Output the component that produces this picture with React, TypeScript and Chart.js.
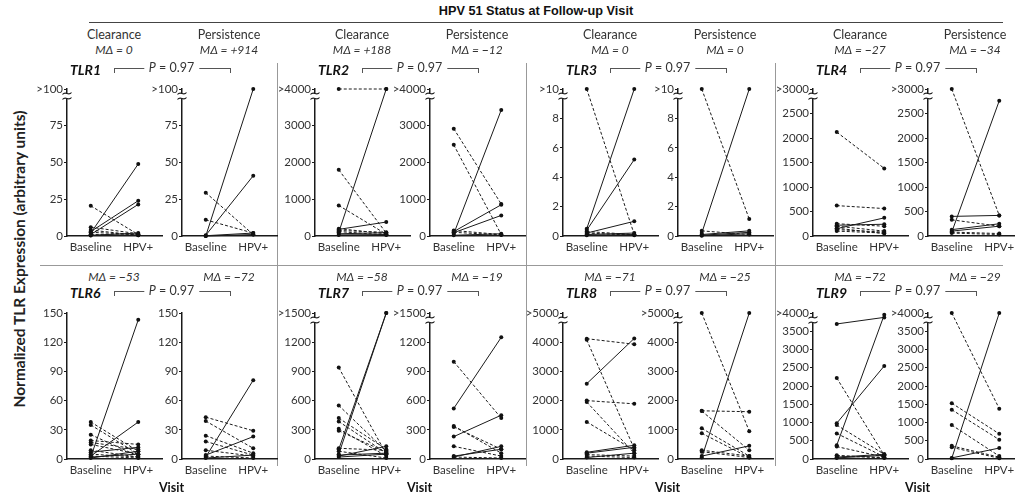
import React, { useEffect, useRef } from "react";
import { Chart, registerables } from "chart.js";
Chart.register(...registerables);

type Pair = [number, number];

// ---------- DATA ----------
const title = "HPV 51 Status at Follow-up Visit";
const yTitle = "Normalized TLR Expression (arbitrary units)";
const xTitle = "Visit";
const visitLabels = ["Baseline", "HPV+"];
const statusGroups = ["Clearance", "Persistence"];
const genes = ["TLR1", "TLR2", "TLR3", "TLR4", "TLR6", "TLR7", "TLR8", "TLR9"];
const pValues = ["0.97", "0.97", "0.97", "0.97", "0.97", "0.97", "0.97", "0.97"];
const medianDeltaClearance = ["0", "+188", "0", "\u221227", "\u221253", "\u221258", "\u221271", "\u221272"];
const medianDeltaPersistence = ["+914", "\u221212", "0", "\u221234", "\u221272", "\u221219", "\u221225", "\u221229"];

const tlr1Ticks = [0, 25, 50, 75, 100];
const tlr2Ticks = [0, 1000, 2000, 3000, 4000];
const tlr3Ticks = [0, 2, 4, 6, 8, 10];
const tlr4Ticks = [0, 500, 1000, 1500, 2000, 2500, 3000];
const tlr6Ticks = [0, 30, 60, 90, 120, 150];
const tlr7Ticks = [0, 300, 600, 900, 1200, 1500];
const tlr8Ticks = [0, 1000, 2000, 3000, 4000, 5000];
const tlr9Ticks = [0, 500, 1000, 1500, 2000, 2500, 3000, 3500, 4000];
const topLabels = [">100", ">4000", ">10", ">3000", "150", ">1500", ">5000", ">4000"];

// [baseline, HPV+] per patient
const tlr1Clearance: Pair[] = [[2, 49], [3, 24], [1, 21.5], [20.5, 1], [6, 1.5], [4, 0.5], [2.5, 1], [1, 0.5], [0.5, 2], [0.3, 0.8]];
const tlr1Persistence: Pair[] = [[0, 100], [0.5, 41], [29.5, 1], [11, 2], [0, 1], [0.2, 2]];
const tlr2Clearance: Pair[] = [[4000, 4000], [100, 4000], [1800, 80], [830, 50], [180, 380], [200, 60], [150, 100], [120, 30], [60, 90], [30, 40]];
const tlr2Persistence: Pair[] = [[2920, 870], [2480, 40], [60, 3430], [120, 850], [90, 560], [150, 40], [100, 30], [20, 60]];
const tlr3Clearance: Pair[] = [[10, 0.1], [0.5, 10], [0.4, 5.2], [0.2, 1.0], [0.3, 0.1], [0.1, 0.2], [0.05, 0.1], [0.2, 0.05]];
const tlr3Persistence: Pair[] = [[10, 1.15], [0.2, 10], [0.35, 0.1], [0.1, 0.35], [0.05, 0.25], [0.02, 0.15]];
const tlr4Clearance: Pair[] = [[2120, 1380], [620, 560], [150, 370], [250, 200], [220, 240], [200, 100], [160, 50], [130, 80], [100, 60]];
const tlr4Persistence: Pair[] = [[3000, 420], [80, 2760], [400, 420], [330, 200], [130, 250], [100, 200], [80, 50], [60, 30]];
const tlr6Clearance: Pair[] = [[2, 143], [3, 38], [38, 8], [35, 5], [25, 3], [19, 15], [17, 10], [15, 5], [9, 2], [7, 12], [5, 2], [1, 8], [2, 5], [3, 1]];
const tlr6Persistence: Pair[] = [[2, 81], [43, 29], [39, 11], [24, 6], [18, 4], [4, 23], [9, 3], [3, 1], [1, 4]];
const tlr7Clearance: Pair[] = [[100, 1500], [50, 1500], [940, 50], [550, 80], [420, 100], [385, 60], [310, 30], [290, 70], [110, 90], [30, 130], [20, 50], [40, 60], [80, 10]];
const tlr7Persistence: Pair[] = [[520, 1250], [1000, 420], [230, 450], [340, 60], [330, 100], [130, 30], [20, 130], [30, 100], [20, 10]];
const tlr8Clearance: Pair[] = [[2580, 4130], [4120, 3930], [4080, 350], [2000, 1890], [1950, 200], [1270, 300], [230, 470], [200, 400], [150, 100], [100, 50], [50, 200]];
const tlr8Persistence: Pair[] = [[50, 5000], [5000, 950], [1650, 1620], [1640, 300], [1050, 100], [880, 50], [100, 450], [300, 100], [250, 50]];
const tlr9Clearance: Pair[] = [[3700, 3880], [380, 3950], [980, 2550], [2220, 100], [930, 130], [700, 60], [340, 50], [100, 30], [50, 130], [80, 40], [30, 100]];
const tlr9Persistence: Pair[] = [[20, 4000], [4000, 1380], [1530, 690], [1350, 530], [930, 80], [360, 50], [320, 20], [30, 300]];

const geneTicks = [tlr1Ticks, tlr2Ticks, tlr3Ticks, tlr4Ticks, tlr6Ticks, tlr7Ticks, tlr8Ticks, tlr9Ticks];
const geneData: Pair[][][] = [
  [tlr1Clearance, tlr1Persistence],
  [tlr2Clearance, tlr2Persistence],
  [tlr3Clearance, tlr3Persistence],
  [tlr4Clearance, tlr4Persistence],
  [tlr6Clearance, tlr6Persistence],
  [tlr7Clearance, tlr7Persistence],
  [tlr8Clearance, tlr8Persistence],
  [tlr9Clearance, tlr9Persistence],
];

// ---------- LAYOUT ----------
const FONT = "Lato, 'Open Sans', sans-serif";
const INK = "#1a1a1a";
const TEXT = "#333";
const groupAxisX = [67, 315, 563, 813];
const PAIR_OFFSET = 115;
const rowsGeo = [
  { top: 89, zero: 236, md: 50, tlr: 70 },
  { top: 313, zero: 459, md: 277, tlr: 293 },
];
const PAD_LEFT = 40;
const PAD_TOP = 12;
const X_AXIS_H = 24;
const AXIS_LEN = 95;
const PAD_RIGHT = 4;

type PanelSpec = {
  key: string;
  gi: number;
  k: number;
  ax: number;
  row: number;
};

const panels: PanelSpec[] = [];
genes.forEach((g, gi) => {
  [0, 1].forEach((k) => {
    const row = gi < 4 ? 0 : 1;
    const col = gi % 4;
    panels.push({ key: g + k, gi, k, ax: groupAxisX[col] + k * PAIR_OFFSET, row });
  });
});

const T: React.FC<{ x: number; y: number; anchor?: "start" | "middle" | "end"; style?: React.CSSProperties; children?: React.ReactNode }> = ({ x, y, anchor = "middle", style, children }) => (
  <div
    style={{
      position: "absolute",
      left: x,
      top: y,
      transform: `translate(${anchor === "middle" ? "-50%" : anchor === "end" ? "-100%" : "0"}, -50%)`,
      whiteSpace: "nowrap",
      lineHeight: 1,
      fontFamily: FONT,
      color: TEXT,
      ...style,
    }}
  >
    {children}
  </div>
);

export default function App() {
  const refs = useRef<(HTMLCanvasElement | null)[]>([]);

  useEffect(() => {
    const charts: Chart[] = [];
    panels.forEach((p, i) => {
      const canvas = refs.current[i];
      if (!canvas) return;
      const ticks = geneTicks[p.gi];
      const top = ticks[ticks.length - 1];
      const topLabel = topLabels[p.gi];
      const hasBreak = topLabel.startsWith(">");
      const pairs = geneData[p.gi][p.k];
      const datasets = pairs.map(([b, h]) => ({
        data: [
          { x: 1, y: Math.min(b, top) },
          { x: 3, y: Math.min(h, top) },
        ],
        borderColor: INK,
        backgroundColor: INK,
        pointBackgroundColor: "#111",
        pointBorderColor: "#111",
        borderWidth: 1,
        borderDash: h > b ? [] : [3, 2],
        pointRadius: 2,
        pointBorderWidth: 0,
        tension: 0,
        clip: false as any,
      }));
      const breakPlugin = {
        id: "axisBreak" + i,
        afterDraw(chart: any) {
          if (!hasBreak) return;
          const { ctx, chartArea } = chart;
          const x = chartArea.left;
          const y1 = chartArea.top + 4.5;
          const y2 = chartArea.top + 9.5;
          ctx.save();
          ctx.fillStyle = "#fff";
          ctx.fillRect(x - 2, y1, 4, y2 - y1);
          ctx.strokeStyle = INK;
          ctx.lineWidth = 1.1;
          for (const y of [y1, y2]) {
            ctx.beginPath();
            ctx.moveTo(x - 4.5, y + 1);
            ctx.bezierCurveTo(x - 1.5, y - 3, x + 1.5, y + 3, x + 4.5, y - 1);
            ctx.stroke();
          }
          ctx.restore();
        },
      };
      const chart = new Chart(canvas, {
        type: "line",
        data: { datasets: datasets as any },
        plugins: [breakPlugin],
        options: {
          animation: false,
          responsive: false,
          maintainAspectRatio: false,
          layout: { padding: { left: 0, right: PAD_RIGHT, top: PAD_TOP, bottom: 0 } },
          plugins: { legend: { display: false }, tooltip: { enabled: false } },
          scales: {
            x: {
              type: "linear",
              min: 0,
              max: 4,
              afterBuildTicks: (s: any) => {
                s.ticks = [{ value: 1 }, { value: 3 }];
              },
              afterFit: (s: any) => {
                s.height = X_AXIS_H;
              },
              ticks: {
                callback: (v: any) => (v === 1 ? visitLabels[0] : v === 3 ? visitLabels[1] : ""),
                font: { family: FONT, size: 11.5 },
                color: TEXT,
                padding: 4,
                maxRotation: 0,
                autoSkip: false,
              },
              grid: { display: false, drawTicks: false },
              border: { display: true, color: INK, width: 1.5 },
            },
            y: {
              type: "linear",
              min: 0,
              max: top,
              afterBuildTicks: (s: any) => {
                s.ticks = ticks.map((v) => ({ value: v }));
              },
              afterFit: (s: any) => {
                s.width = PAD_LEFT;
              },
              ticks: {
                callback: (v: any) => (v === top ? topLabel : String(v)),
                font: { family: FONT, size: 11.5 },
                color: TEXT,
                padding: 1,
                autoSkip: false,
              },
              grid: { drawOnChartArea: false, drawTicks: true, tickLength: 3, color: INK, lineWidth: 1 },
              border: { display: true, color: INK, width: 1.5 },
            },
          },
        } as any,
      });
      charts.push(chart);
    });
    return () => charts.forEach((c) => c.destroy());
  }, []);

  const elements: React.ReactNode[] = [];

  panels.forEach((p, i) => {
    const geo = rowsGeo[p.row];
    const w = PAD_LEFT + AXIS_LEN + PAD_RIGHT;
    const h = geo.zero - geo.top + PAD_TOP + X_AXIS_H;
    elements.push(
      <canvas
        key={"c" + p.key}
        ref={(el) => {
          refs.current[i] = el;
        }}
        width={w}
        height={h}
        style={{ position: "absolute", left: p.ax - PAD_LEFT, top: geo.top - PAD_TOP, width: w, height: h }}
      />
    );
  });

  genes.forEach((g, gi) => {
    const row = gi < 4 ? 0 : 1;
    const col = gi % 4;
    const geo = rowsGeo[row];
    const ax0 = groupAxisX[col];
    const ax1 = ax0 + PAIR_OFFSET;
    const c0 = ax0 + 47;
    const c1 = ax1 + 47;
    if (row === 0) {
      elements.push(
        <T key={"h0" + g} x={c0} y={35} style={{ fontSize: 12.5 }}>{statusGroups[0]}</T>,
        <T key={"h1" + g} x={c1} y={35} style={{ fontSize: 12.5 }}>{statusGroups[1]}</T>
      );
    }
    elements.push(
      <T key={"m0" + g} x={c0} y={geo.md} style={{ fontSize: 12, fontStyle: "italic" }}>
        M{"\u0394"} = {medianDeltaClearance[gi]}
      </T>,
      <T key={"m1" + g} x={c1} y={geo.md} style={{ fontSize: 12, fontStyle: "italic" }}>
        M{"\u0394"} = {medianDeltaPersistence[gi]}
      </T>,
      <T key={"g" + g} x={ax0 + 3} y={geo.tlr} anchor="start" style={{ fontSize: 14, fontWeight: "bold", fontStyle: "italic", color: "#111" }}>
        {g}
      </T>,
      <div
        key={"br" + g}
        style={{
          position: "absolute",
          left: c0,
          top: geo.tlr - 2,
          width: c1 - c0,
          height: 4,
          borderTop: "1px solid #555",
          borderLeft: "1px solid #555",
          borderRight: "1px solid #555",
        }}
      />,
      <T key={"p" + g} x={(c0 + c1) / 2} y={geo.tlr - 2} style={{ fontSize: 12.5, background: "#fff", padding: "0 5px" }}>
        <i>P</i> = {pValues[gi]}
      </T>
    );
    if (row === 1) {
      elements.push(
        <T key={"v" + g} x={(ax0 + ax1) / 2 + 47} y={488} style={{ fontSize: 12.5, fontWeight: "bold", color: "#111" }}>
          {xTitle}
        </T>
      );
    }
  });

  return (
    <div style={{ position: "absolute", left: 0, top: 0, width: 1015, height: 498, background: "#fff", overflow: "hidden" }}>
      <T x={536} y={11} style={{ fontFamily: "'Liberation Sans', Arial, sans-serif", fontWeight: "bold", fontSize: 12.7, color: "#111" }}>
        {title}
      </T>
      <div style={{ position: "absolute", left: 89, top: 22, width: 914, height: 1, background: "#444" }} />
      {[277, 526, 775].map((x) => (
        <div key={"vd" + x} style={{ position: "absolute", left: x, top: 63, width: 1, height: 403, background: "#999" }} />
      ))}
      <div style={{ position: "absolute", left: 40, top: 265, width: 963, height: 1, background: "#999" }} />
      <div
        style={{
          position: "absolute",
          left: 20,
          top: 259,
          transform: "translate(-50%, -50%) rotate(-90deg)",
          whiteSpace: "nowrap",
          lineHeight: 1,
          fontFamily: FONT,
          fontSize: 15.5,
          fontWeight: "bold",
          color: "#222",
        }}
      >
        {yTitle}
      </div>
      {elements}
    </div>
  );
}
